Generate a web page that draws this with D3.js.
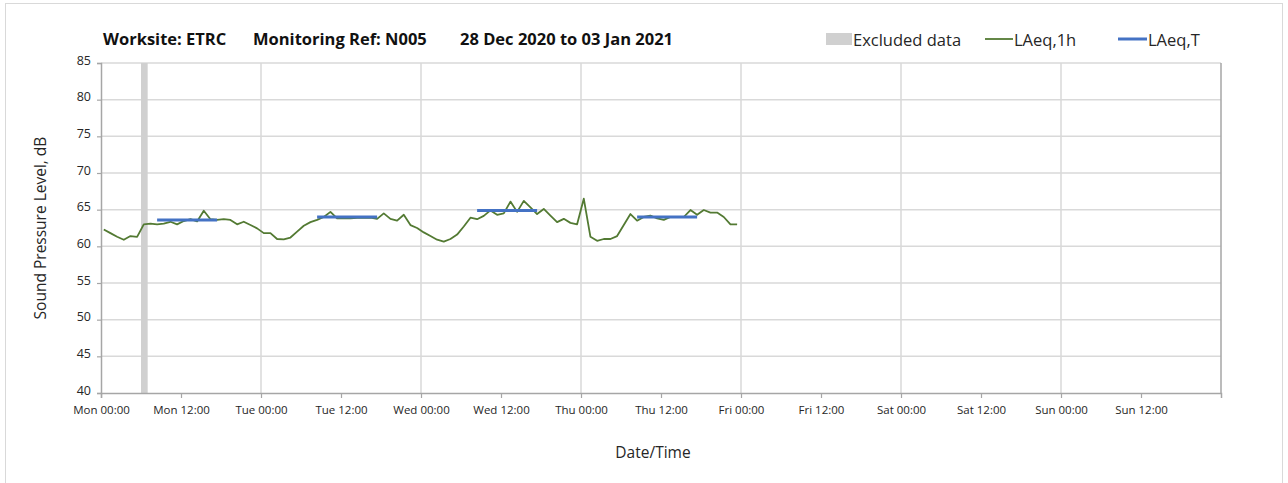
<!DOCTYPE html>
<html>
<head>
<meta charset="utf-8">
<script src="https://cdn.jsdelivr.net/npm/d3@7"></script>
<style>
  body { margin: 0; background: #fff; }
  svg text { font-family: "Open Sans", Lato, sans-serif; fill: #262626; }
</style>
</head>
<body>
<script>
// ---- data ----
var titleParts = ["Worksite: ETRC", "Monitoring Ref: N005", "28 Dec 2020 to 03 Jan 2021"];
var weekStart = new Date(2020, 11, 28, 0, 0);     // Mon 00:00
var weekEnd = new Date(2021, 0, 4, 0, 0);         // next Mon 00:00
var firstReading = new Date(2020, 11, 28, 0, 25); // hourly readings from here
var yTicks = [40, 45, 50, 55, 60, 65, 70, 75, 80, 85];

// LAeq,1h - one value per hour, Mon 00:00 .. Thu 23:00
var laeq1h = [
  62.3, 61.8, 61.3, 60.9, 61.4, 61.3, 63.0, 63.1, 63.0, 63.1, 63.35, 63.0,
  63.45, 63.7, 63.4, 64.85, 63.7, 63.6, 63.7, 63.6, 63.0, 63.35, 62.9, 62.45,
  61.8, 61.8, 61.0, 60.95, 61.2, 62.0, 62.8, 63.3, 63.6, 64.0, 64.7, 63.8,
  63.8, 63.8, 63.9, 63.9, 63.9, 63.75, 64.5, 63.75, 63.5, 64.3, 62.9, 62.5,
  61.9, 61.4, 60.9, 60.65, 61.0, 61.6, 62.7, 63.9, 63.7, 64.15, 64.9, 64.3,
  64.5, 66.1, 64.7, 66.2, 65.3, 64.4, 65.1, 64.2, 63.3, 63.75, 63.2, 63.0,
  66.5, 61.3, 60.75, 61.0, 61.0, 61.4, 62.9, 64.4, 63.5, 64.0, 64.2, 63.8,
  63.6, 64.0, 64.0, 64.0, 64.95, 64.3, 64.95, 64.6, 64.6, 64.0, 63.0, 63.0
];

// LAeq,T - one daytime level per weekday (08:00 - 17:00)
var laeqTDays = [0, 1, 2, 3];
var laeqT = [63.6, 64.0, 64.9, 64.0];
var periodStartHour = 8;
var periodEndHour = 17;

// excluded data (hours from Mon 00:00)
var excludedFrom = [6];
var excludedTo = [7];

// ---- layout ----
var W = 1288, H = 483;
var plotL = 101, plotR = 1221, plotT = 63, plotB = 393;
var HOUR = 3600 * 1000;

var svg = d3.select("body").append("svg")
  .attr("width", W)
  .attr("height", H);

svg.append("rect")
  .attr("x", 5.5).attr("y", 3.5)
  .attr("width", 1277).attr("height", 490)
  .attr("fill", "#fff")
  .attr("stroke", "#d9d9d9");

var x = d3.scaleTime().domain([weekStart, weekEnd]).range([plotL, plotR]);
var y = d3.scaleLinear().domain([40, 85]).range([plotB, plotT]);

// gridlines
svg.append("g")
  .selectAll("line")
  .data(yTicks.slice(1))
  .enter().append("line")
  .attr("x1", plotL).attr("x2", plotR)
  .attr("y1", function (d) { return y(d); })
  .attr("y2", function (d) { return y(d); })
  .attr("stroke", "#d9d9d9")
  .attr("stroke-width", 1.5);

var dayLines = d3.timeDay.range(d3.timeDay.offset(weekStart, 1), d3.timeDay.offset(weekEnd, 1));
svg.append("g")
  .selectAll("line")
  .data(dayLines)
  .enter().append("line")
  .attr("x1", function (d) { return x(d); })
  .attr("x2", function (d) { return x(d); })
  .attr("y1", plotT).attr("y2", plotB)
  .attr("stroke", function (d, i) { return i === dayLines.length - 1 ? "#a6a6a6" : "#d9d9d9"; })
  .attr("stroke-width", 1.5);

// excluded data band
svg.append("g")
  .selectAll("rect")
  .data(excludedFrom)
  .enter().append("rect")
  .attr("x", function (d) { return x(new Date(+weekStart + d * HOUR)); })
  .attr("width", function (d, i) { return x(new Date(+weekStart + excludedTo[i] * HOUR)) - x(new Date(+weekStart + d * HOUR)); })
  .attr("y", plotT)
  .attr("height", plotB - plotT)
  .attr("fill", "#d0d0d0");

// axes
var yAxis = d3.axisLeft(y).tickValues(yTicks).tickSize(4).tickPadding(6);
var gy = svg.append("g")
  .attr("transform", "translate(" + plotL + ",0)")
  .call(yAxis);
gy.selectAll("text").style("font-size", "12.5px").attr("dy", "0.1em");

var xTicks = d3.timeHour.every(12).range(weekStart, weekEnd);
var xAxis = d3.axisBottom(x).tickValues(xTicks).tickSize(5).tickPadding(8)
  .tickFormat(d3.timeFormat("%a %H:%M"));
var gx = svg.append("g")
  .attr("transform", "translate(0," + plotB + ")")
  .call(xAxis);
gx.selectAll("text").style("font-size", "11.5px");

[gx, gy].forEach(function (g) {
  g.select(".domain").attr("stroke", "#a6a6a6").attr("stroke-width", 1.5);
  g.selectAll(".tick line").attr("stroke", "#a6a6a6").attr("stroke-width", 1.2);
});

// LAeq,1h line
var line = d3.line()
  .x(function (d, i) { return x(new Date(+firstReading + i * HOUR)); })
  .y(function (d) { return y(d); });

svg.append("path")
  .datum(laeq1h)
  .attr("d", line)
  .attr("fill", "none")
  .attr("stroke", "#537a33")
  .attr("stroke-width", 1.8)
  .attr("stroke-linejoin", "round");

// LAeq,T segments
var offsetMs = +firstReading - +weekStart;
svg.append("g")
  .selectAll("line")
  .data(laeqT)
  .enter().append("line")
  .attr("x1", function (d, i) { return x(new Date(+weekStart + offsetMs + (laeqTDays[i] * 24 + periodStartHour) * HOUR)); })
  .attr("x2", function (d, i) { return x(new Date(+weekStart + offsetMs + (laeqTDays[i] * 24 + periodEndHour) * HOUR)); })
  .attr("y1", function (d) { return y(d); })
  .attr("y2", function (d) { return y(d); })
  .attr("stroke", "#4472c4")
  .attr("stroke-width", 3);

// title
var titleX = [103, 253, 460];
svg.append("g")
  .selectAll("text")
  .data(titleParts)
  .enter().append("text")
  .attr("x", function (d, i) { return titleX[i]; })
  .attr("y", 45)
  .style("font-size", "16.5px")
  .style("font-weight", "bold")
  .style("fill", "#111")
  .text(function (d) { return d; });

// legend
var legend = svg.append("g").style("font-size", "16.5px");
legend.append("rect").attr("x", 826).attr("y", 33).attr("width", 26).attr("height", 12).attr("fill", "#d0d0d0");
legend.append("text").attr("x", 853).attr("y", 46).text("Excluded data");
legend.append("line").attr("x1", 985).attr("x2", 1013).attr("y1", 39).attr("y2", 39)
  .attr("stroke", "#537a33").attr("stroke-width", 1.8);
legend.append("text").attr("x", 1014).attr("y", 46).text("LAeq,1h");
legend.append("line").attr("x1", 1118).attr("x2", 1147).attr("y1", 39).attr("y2", 39)
  .attr("stroke", "#4472c4").attr("stroke-width", 3);
legend.append("text").attr("x", 1148).attr("y", 46).text("LAeq,T");

// axis titles
svg.append("text")
  .attr("transform", "translate(46," + ((plotT + plotB) / 2) + ") rotate(-90)")
  .attr("text-anchor", "middle")
  .style("font-size", "15.5px")
  .text("Sound Pressure Level, dB");

svg.append("text")
  .attr("x", (plotL + plotR) / 2 - 8)
  .attr("y", 458)
  .attr("text-anchor", "middle")
  .style("font-size", "15.5px")
  .text("Date/Time");
</script>
</body>
</html>
